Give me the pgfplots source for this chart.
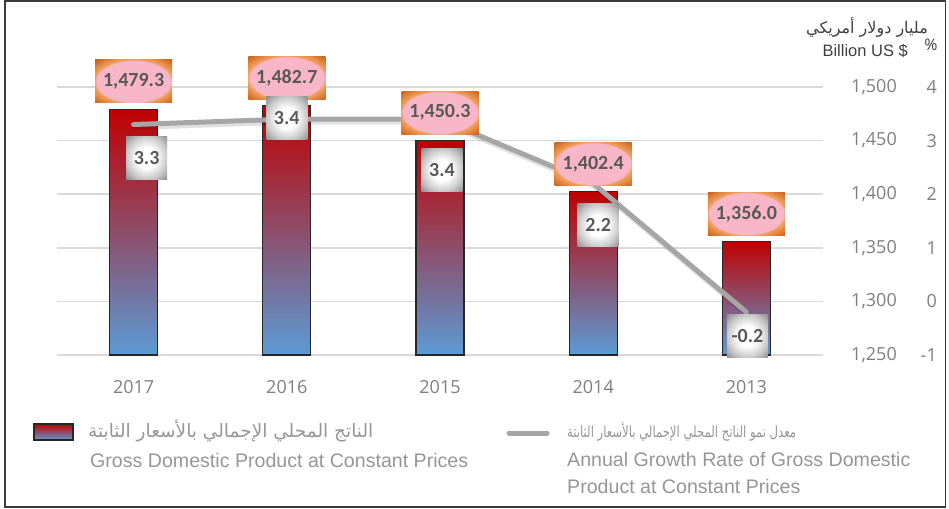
\documentclass[border=0pt]{standalone}
\usepackage{fontspec}
\usepackage{pgfplots}
\pgfplotsset{compat=1.18}
\TeXXeTstate=1
\setmainfont{Liberation Sans}
\newfontfamily\tickfont{Open Sans}
\newfontfamily\lblfont{Carlito}
\newfontfamily\arabicfont[Script=Arabic]{DejaVu Sans}

\definecolor{barred}{RGB}{192,0,0}
\definecolor{barblue}{RGB}{91,155,213}
\definecolor{bardraw}{RGB}{38,38,38}
\definecolor{gridc}{RGB}{217,217,217}
\definecolor{linec}{RGB}{166,166,166}
\definecolor{tickc}{RGB}{127,127,127}
\definecolor{lblc}{RGB}{89,89,89}
\definecolor{legc}{RGB}{150,150,150}
\definecolor{titc}{RGB}{64,64,64}
\definecolor{framec}{RGB}{60,60,60}
\definecolor{pinkc}{RGB}{248,182,200}
\definecolor{orl}{RGB}{240,160,95}
\definecolor{ord}{RGB}{205,95,20}
\definecolor{wg1}{RGB}{200,200,200}
\definecolor{wg2}{RGB}{140,140,140}

\pgfdeclareradialshading{pinkbox}{\pgfpoint{0bp}{0bp}}{color(0bp)=(pinkc); color(24bp)=(pinkc); color(25.5bp)=(orl); color(35.5bp)=(ord); color(50bp)=(ord)}
\pgfdeclareradialshading{whitebox}{\pgfpoint{0bp}{0bp}}{color(0bp)=(white); color(12bp)=(white); color(25bp)=(wg1); color(35.5bp)=(wg2); color(50bp)=(wg2)}

\pgfplotsset{
  base/.style={at={(57pt,-355pt)}, anchor=south west, width=766pt, height=268pt,
    scale only axis, xmin=-0.5, xmax=4.5, clip=false,
    axis line style={draw=none}, major tick length=0pt},
  billion/.style={
    y coord trafo/.code={\pgfmathparse{##1-1250}},
    y coord inv trafo/.code={\pgfmathparse{##1+1250}},
    ymin=1250, ymax=1500},
  pct/.style={ymin=-1, ymax=4},
  gdpbar/.style={ybar, bar width=48pt, bar shift=0pt, draw=bardraw, line width=1.3pt,
    top color=barred, bottom color=barblue},
}

\begin{document}
\begin{tikzpicture}[x=1pt,y=1pt]
\useasboundingbox (0,0) rectangle (949,-508);
\draw[line width=1.6pt, color=framec] (5,-1) rectangle (945.5,-507.2);

% bars
\begin{axis}[base, billion,
  ytick={1250,1300,1350,1400,1450,1500},
  yticklabel pos=right,
  yticklabel style={anchor=east, inner sep=0pt, xshift=74pt, text=tickc,
     font=\tickfont\fontsize{18}{20}\selectfont,
     /pgf/number format/.cd, assume math mode=true, 1000 sep={,}},
  ymajorgrids, grid style={gridc, line width=1.5pt},
  xtick={0,1,2,3,4}, xticklabels={2017,2016,2015,2014,2013},
  xticklabel style={anchor=base, yshift=-38pt, text=tickc,
     font=\tickfont\fontsize{18}{20}\selectfont},
]
\addplot[gdpbar] coordinates {(0,1479.3)};
\addplot[gdpbar] coordinates {(1,1482.7)};
\addplot[gdpbar] coordinates {(2,1450.3)};
\addplot[gdpbar] coordinates {(3,1402.4)};
\addplot[gdpbar] coordinates {(4,1356.0)};
\end{axis}

% growth line
\begin{axis}[base, pct,
  xtick=\empty,
  ytick={-1,0,1,2,3,4},
  yticklabel pos=right,
  yticklabel style={anchor=east, inner sep=0pt, xshift=114pt, text=tickc,
     font=\tickfont\fontsize{18}{20}\selectfont,
     /pgf/number format/.cd, assume math mode=true},
]
\pgfplotstableread{
x y
0 3.3
1 3.4
2 3.4
3 2.2
4 -0.2
}\growth
\addplot[color=black, opacity=0.12, line width=6pt, line cap=round, line join=round,
  xshift=1.5pt, yshift=-2.5pt] table {\growth};
\addplot[color=linec, line width=5pt, line cap=round, line join=round] table {\growth};
\end{axis}

% bar labels
\begin{axis}[base, billion, hide axis]
\addplot[draw=none, mark=none,
  visualization depends on={rawy\as\rawy},
  nodes near coords={\pgfmathprintnumber[fixed,fixed zerofill,precision=1,1000 sep={,},assume math mode=true]{\rawy}},
  nodes near coords style={anchor=south, yshift=6pt, shading=pinkbox, draw=none,
     minimum width=77pt, minimum height=43pt, inner sep=0pt, text=lblc,
     font=\lblfont\bfseries\fontsize{20}{22}\selectfont}]
  coordinates {(0,1479.3) (1,1482.7) (2,1450.3) (3,1402.4) (4,1356.0)};
\end{axis}

% growth labels
\begin{axis}[base, pct, hide axis]
\addplot[draw=none, mark=none,
  point meta=y,
  visualization depends on={\thisrow{dx}\as\dx},
  visualization depends on={\thisrow{dy}\as\dy},
  nodes near coords={\pgfmathprintnumber[fixed,fixed zerofill,precision=1,assume math mode=true]{\pgfplotspointmeta}},
  nodes near coords style={anchor=center, xshift=\dx pt, yshift=-\dy pt, shading=whitebox, draw=none,
     minimum width=41pt, minimum height=43pt, inner sep=3pt, text=lblc,
     font=\lblfont\bfseries\fontsize{20}{22}\selectfont}]
  table {
x y dx dy
0 3.3 13 33
1 3.4 0 -1
2 3.4 2 51
3 2.2 5 42
4 -0.2 1 24
};
\end{axis}

% titles
\node[anchor=base, text=titc, font=\arabicfont\fontsize{16}{18}\selectfont] at (867,-34) {\beginR مليار دولار أمريكي\endR};
\node[anchor=base east, inner sep=0pt, text=titc, font=\fontsize{16.5}{18}\selectfont] at (908,-57) {Billion US \$};
\node[anchor=center, inner sep=0pt, text=titc, font=\tickfont\fontsize{16}{18}\selectfont] at (931,-45) {\%};

% legend
\shade[top color=barred, bottom color=barblue, draw=bardraw, line width=1.2pt] (34,-424) rectangle (73,-440);
\node[anchor=base west, inner sep=0pt, text=legc, font=\arabicfont\fontsize{18.5}{20}\selectfont] at (88,-437) {\beginR الناتج المحلي الإجمالي بالأسعار الثابتة\endR};
\node[anchor=base west, inner sep=0pt, text=legc, font=\fontsize{19.6}{22}\selectfont] at (90,-467) {Gross Domestic Product at Constant Prices};
\draw[linec, line width=5pt, line cap=round] (509,-433) -- (547,-433);
\node[anchor=base west, inner sep=0pt, text=legc, font=\arabicfont\fontsize{15.5}{18}\selectfont] at (567,-437) {\scalebox{0.75}[1]{\beginR معدل نمو الناتج المحلي الإجمالي بالأسعار الثابتة\endR}};
\node[anchor=base west, inner sep=0pt, text=legc, font=\fontsize{19.6}{22}\selectfont] at (567,-466) {Annual Growth Rate of Gross Domestic};
\node[anchor=base west, inner sep=0pt, text=legc, font=\fontsize{19.6}{22}\selectfont] at (567,-493) {Product at Constant Prices};
\end{tikzpicture}
\end{document}
